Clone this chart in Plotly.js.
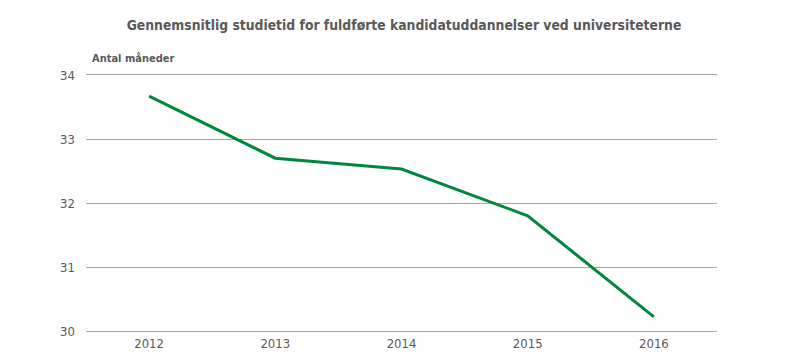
<!DOCTYPE html>
<html><head><meta charset="utf-8">
<script src="https://cdn.plot.ly/plotly-3.0.1.min.js"></script>
<style>body{margin:0;background:#fff}#c{width:800px;height:364px}</style>
</head><body><div id="c"></div>
<script>
const years = ['2012','2013','2014','2015','2016'];
const months = [33.67, 32.70, 32.53, 31.80, 30.22];
const yTicks = [30, 31, 32, 33, 34];

const FONT = '"DejaVu Sans Condensed", "Liberation Sans Narrow", sans-serif';
Plotly.newPlot('c', [{
  x: years, y: months, type: 'scatter', mode: 'lines',
  line: {color: '#00873E', width: 3}, hoverinfo: 'skip'
}], {
  width: 800, height: 364,
  margin: {l: 86, r: 83, t: 75, b: 33},
  paper_bgcolor: '#fff', plot_bgcolor: '#fff',
  showlegend: false,
  title: {text: '<b>Gennemsnitlig studietid for fuldførte kandidatuddannelser ved universiteterne</b>',
    x: 0.505, xanchor: 'center', y: 0.93, yanchor: 'middle', yref: 'container',
    font: {family: FONT, size: 13.8, color: '#595959'}},
  xaxis: {type: 'category', range: [-0.5, 4.5], showgrid: false, showline: true, mirror: true,
    linecolor: '#A6A6A6', linewidth: 1, ticks: '', ticklen: 0,
    tickfont: {family: FONT, size: 13, color: '#595959'}, fixedrange: true},
  yaxis: {range: [30, 34], tickvals: yTicks, ticktext: yTicks.map(String),
    showgrid: true, gridcolor: '#A6A6A6', gridwidth: 1, zeroline: false,
    showline: false, ticks: '', ticklabelstandoff: 10,
    tickfont: {family: FONT, size: 13, color: '#595959'}, fixedrange: true},
  annotations: [{text: '<b>Antal måneder</b>', xref: 'paper', yref: 'paper',
    x: 0.0, y: 1, xshift: 4, yshift: 17, xanchor: 'left', yanchor: 'middle', showarrow: false,
    font: {family: FONT, size: 11, color: '#595959'}}]
}, {displayModeBar: false, staticPlot: true});
</script></body></html>
